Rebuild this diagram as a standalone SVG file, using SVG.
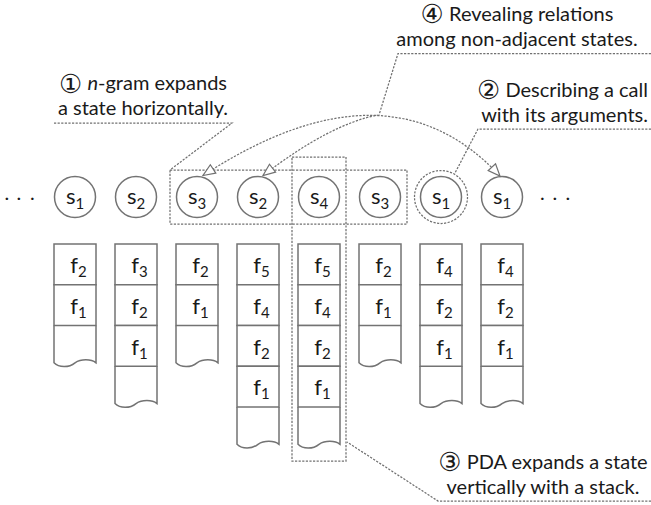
<svg xmlns="http://www.w3.org/2000/svg" width="651" height="505" viewBox="0 0 651 505">
<style>
.st{fill:none;stroke:#737373;stroke-width:1.5}
.cell{fill:#fff;stroke:#737373;stroke-width:1.5}
.dash{fill:none;stroke:#707070;stroke-width:1.25;stroke-dasharray:2.2 1.4}
.t{font-family:Lato,"Open Sans",sans-serif;font-size:20px;fill:#1a1a1a}
.num{font-family:"DejaVu Sans","Noto Sans CJK JP",sans-serif;font-size:26px}
.sl{font-family:Lato,"Open Sans",sans-serif;font-size:22px;fill:#1a1a1a;text-anchor:middle}
.fl{font-family:Lato,"Open Sans",sans-serif;font-size:22px;fill:#1a1a1a;text-anchor:middle}
.sub{font-size:15px}
.fsub{font-size:15px}
.dots{font-family:Lato,sans-serif;font-size:20px;fill:#1a1a1a}
</style>
<defs>
<marker id="ah" markerUnits="userSpaceOnUse" markerWidth="16" markerHeight="14" refX="13" refY="6" orient="auto-start-reverse" viewBox="0 0 16 12">
<path d="M1,1 L13,6 L1,11 Z" fill="#fff" stroke="#707070" stroke-width="1.2"/>
</marker>
</defs>

<text class="dots" x="4.5 16.5 30" y="200">...</text>
<text class="dots" x="540 552.5 565.5" y="200">...</text>

<g id="s-col1">
<circle class="st" cx="75" cy="197" r="20.5"/>
<text class="sl" x="75" y="203.5">s<tspan class="sub" dy="5">1</tspan></text>
</g>
<g id="s-col2">
<circle class="st" cx="136" cy="197" r="20.5"/>
<text class="sl" x="136" y="203.5">s<tspan class="sub" dy="5">2</tspan></text>
</g>
<g id="s-col3">
<circle class="st" cx="197" cy="197" r="20.5"/>
<text class="sl" x="197" y="203.5">s<tspan class="sub" dy="5">3</tspan></text>
</g>
<g id="s-col4">
<circle class="st" cx="258" cy="197" r="20.5"/>
<text class="sl" x="258" y="203.5">s<tspan class="sub" dy="5">2</tspan></text>
</g>
<g id="s-col5">
<circle class="st" cx="319" cy="197" r="20.5"/>
<text class="sl" x="319" y="203.5">s<tspan class="sub" dy="5">4</tspan></text>
</g>
<g id="s-col6">
<circle class="st" cx="380" cy="197" r="20.5"/>
<text class="sl" x="380" y="203.5">s<tspan class="sub" dy="5">3</tspan></text>
</g>
<g id="s-col7">
<circle class="st" cx="441" cy="197" r="20.5"/>
<text class="sl" x="441" y="203.5">s<tspan class="sub" dy="5">1</tspan></text>
</g>
<g id="s-col8">
<circle class="st" cx="502" cy="197" r="20.5"/>
<text class="sl" x="502" y="203.5">s<tspan class="sub" dy="5">1</tspan></text>
</g>

<g id="stack1">
<rect class="cell" x="54" y="244" width="42" height="40.75"/>
<rect class="cell" x="54" y="284.75" width="42" height="40.75"/>
<path class="st" d="M54,325.5 v37.3 c5,5 15,5 21,0 c6,-4 16,-4 21,0 v-37.3"/>
<text class="fl" x="78.5" y="273">f<tspan class="fsub" dy="4">2</tspan></text>
<text class="fl" x="78.5" y="313.75">f<tspan class="fsub" dy="4">1</tspan></text>
</g>
<g id="stack2">
<rect class="cell" x="115" y="244" width="42" height="40.75"/>
<rect class="cell" x="115" y="284.75" width="42" height="40.75"/>
<rect class="cell" x="115" y="325.5" width="42" height="40.75"/>
<path class="st" d="M115,366.25 v37.3 c5,5 15,5 21,0 c6,-4 16,-4 21,0 v-37.3"/>
<text class="fl" x="139.5" y="273">f<tspan class="fsub" dy="4">3</tspan></text>
<text class="fl" x="139.5" y="313.75">f<tspan class="fsub" dy="4">2</tspan></text>
<text class="fl" x="139.5" y="354.5">f<tspan class="fsub" dy="4">1</tspan></text>
</g>
<g id="stack3">
<rect class="cell" x="176" y="244" width="42" height="40.75"/>
<rect class="cell" x="176" y="284.75" width="42" height="40.75"/>
<path class="st" d="M176,325.5 v37.3 c5,5 15,5 21,0 c6,-4 16,-4 21,0 v-37.3"/>
<text class="fl" x="200.5" y="273">f<tspan class="fsub" dy="4">2</tspan></text>
<text class="fl" x="200.5" y="313.75">f<tspan class="fsub" dy="4">1</tspan></text>
</g>
<g id="stack4">
<rect class="cell" x="237" y="244" width="42" height="40.75"/>
<rect class="cell" x="237" y="284.75" width="42" height="40.75"/>
<rect class="cell" x="237" y="325.5" width="42" height="40.75"/>
<rect class="cell" x="237" y="366.25" width="42" height="40.75"/>
<path class="st" d="M237,407 v37.3 c5,5 15,5 21,0 c6,-4 16,-4 21,0 v-37.3"/>
<text class="fl" x="261.5" y="273">f<tspan class="fsub" dy="4">5</tspan></text>
<text class="fl" x="261.5" y="313.75">f<tspan class="fsub" dy="4">4</tspan></text>
<text class="fl" x="261.5" y="354.5">f<tspan class="fsub" dy="4">2</tspan></text>
<text class="fl" x="261.5" y="395.25">f<tspan class="fsub" dy="4">1</tspan></text>
</g>
<g id="stack5">
<rect class="cell" x="298" y="244" width="42" height="40.75"/>
<rect class="cell" x="298" y="284.75" width="42" height="40.75"/>
<rect class="cell" x="298" y="325.5" width="42" height="40.75"/>
<rect class="cell" x="298" y="366.25" width="42" height="40.75"/>
<path class="st" d="M298,407 v37.3 c5,5 15,5 21,0 c6,-4 16,-4 21,0 v-37.3"/>
<text class="fl" x="322.5" y="273">f<tspan class="fsub" dy="4">5</tspan></text>
<text class="fl" x="322.5" y="313.75">f<tspan class="fsub" dy="4">4</tspan></text>
<text class="fl" x="322.5" y="354.5">f<tspan class="fsub" dy="4">2</tspan></text>
<text class="fl" x="322.5" y="395.25">f<tspan class="fsub" dy="4">1</tspan></text>
</g>
<g id="stack6">
<rect class="cell" x="359" y="244" width="42" height="40.75"/>
<rect class="cell" x="359" y="284.75" width="42" height="40.75"/>
<path class="st" d="M359,325.5 v37.3 c5,5 15,5 21,0 c6,-4 16,-4 21,0 v-37.3"/>
<text class="fl" x="383.5" y="273">f<tspan class="fsub" dy="4">2</tspan></text>
<text class="fl" x="383.5" y="313.75">f<tspan class="fsub" dy="4">1</tspan></text>
</g>
<g id="stack7">
<rect class="cell" x="420" y="244" width="42" height="40.75"/>
<rect class="cell" x="420" y="284.75" width="42" height="40.75"/>
<rect class="cell" x="420" y="325.5" width="42" height="40.75"/>
<path class="st" d="M420,366.25 v37.3 c5,5 15,5 21,0 c6,-4 16,-4 21,0 v-37.3"/>
<text class="fl" x="444.5" y="273">f<tspan class="fsub" dy="4">4</tspan></text>
<text class="fl" x="444.5" y="313.75">f<tspan class="fsub" dy="4">2</tspan></text>
<text class="fl" x="444.5" y="354.5">f<tspan class="fsub" dy="4">1</tspan></text>
</g>
<g id="stack8">
<rect class="cell" x="481" y="244" width="42" height="40.75"/>
<rect class="cell" x="481" y="284.75" width="42" height="40.75"/>
<rect class="cell" x="481" y="325.5" width="42" height="40.75"/>
<path class="st" d="M481,366.25 v37.3 c5,5 15,5 21,0 c6,-4 16,-4 21,0 v-37.3"/>
<text class="fl" x="505.5" y="273">f<tspan class="fsub" dy="4">4</tspan></text>
<text class="fl" x="505.5" y="313.75">f<tspan class="fsub" dy="4">2</tspan></text>
<text class="fl" x="505.5" y="354.5">f<tspan class="fsub" dy="4">1</tspan></text>
</g>

<g id="ngram-box"><rect class="dash" x="170" y="170" width="237" height="54"/></g>
<g id="pda-box"><rect class="dash" x="292" y="157" width="54" height="304"/></g>
<g id="call-ring"><circle class="dash" cx="441" cy="197" r="26.5"/></g>

<g id="note1">
<text class="t" x="143" y="90" text-anchor="middle"><tspan class="num" dy="2.5">①</tspan><tspan dy="-2.5"> </tspan><tspan font-style="italic">n</tspan>-gram expands</text>
<text class="t" x="143" y="115" text-anchor="middle">a state horizontally.</text>
</g>
<g id="note2">
<text class="t" x="648" y="96.5" text-anchor="end"><tspan class="num" dy="2.5">②</tspan><tspan dy="-2.5"> Describing a call</tspan></text>
<text class="t" x="648" y="121.5" text-anchor="end">with its arguments.</text>
</g>
<g id="note3">
<text class="t" x="543" y="468.5" text-anchor="middle"><tspan class="num" dy="2.5">③</tspan><tspan dy="-2.5"> PDA expands a state</tspan></text>
<text class="t" x="543" y="493.5" text-anchor="middle">vertically with a stack.</text>
</g>
<g id="note4">
<text class="t" x="517" y="20.5" text-anchor="middle"><tspan class="num" dy="2.5">④</tspan><tspan dy="-2.5"> Revealing relations</tspan></text>
<text class="t" x="517" y="45.5" text-anchor="middle">among non-adjacent states.</text>
</g>

<g id="connectors">
<path class="dash" d="M203,175.5 Q388,55 500,176" marker-start="url(#ah)" marker-end="url(#ah)"/>
<path class="dash" d="M263,175.5 Q330,124 378,115" marker-start="url(#ah)"/>
<path class="dash" d="M54,123 H232 L170,170"/>
<path class="dash" d="M651,53.5 H398 L379,115"/>
<path class="dash" d="M651,129 H478 L455,173"/>
<path class="dash" d="M651,501 H438 L347,442"/>
</g>
</svg>
